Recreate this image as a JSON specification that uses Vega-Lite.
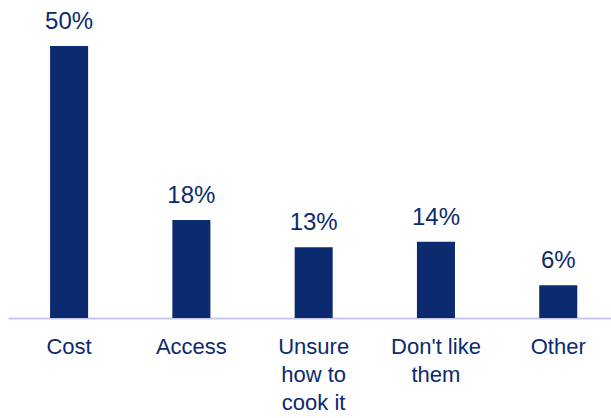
{
  "$schema": "https://vega.github.io/schema/vega-lite/v6.json",
  "width": 603,
  "height": 272,
  "autosize": {"type": "none"},
  "padding": {"left": 8, "top": 46, "right": 0, "bottom": 100},
  "background": "white",
  "config": {"view": {"stroke": null}, "font": "Liberation Sans"},
  "data": {
    "values": [
      {"reason": "Cost", "share": 0.50},
      {"reason": "Access", "share": 0.18},
      {"reason": "Unsure how to cook it", "share": 0.13},
      {"reason": "Don't like them", "share": 0.14},
      {"reason": "Other", "share": 0.06}
    ]
  },
  "encoding": {
    "x": {
      "field": "reason",
      "type": "nominal",
      "sort": null,
      "scale": {"paddingInner": 0.689, "paddingOuter": 0.31, "align": 0.555},
      "axis": {
        "title": null,
        "labelAngle": 0,
        "ticks": false,
        "domainColor": "#c8c8ec",
        "domainWidth": 2,
        "labelFont": "Liberation Sans",
        "labelFontSize": 22,
        "labelColor": "#0c2a6e",
        "labelBaseline": "top",
        "labelPadding": 18,
        "labelLineHeight": 28,
        "labelLimit": 0,
        "labelExpr": "datum.label == 'Unsure how to cook it' ? ['Unsure', 'how to', 'cook it'] : datum.label == \"Don't like them\" ? [\"Don't like\", 'them'] : datum.label"
      }
    },
    "y": {
      "field": "share",
      "type": "quantitative",
      "scale": {"domain": [0, 0.5], "nice": false},
      "axis": null
    }
  },
  "layer": [
    {"mark": {"type": "bar", "color": "#0b2a6f"}},
    {
      "mark": {"type": "text", "baseline": "alphabetic", "dy": -17, "fontSize": 24, "font": "Liberation Sans", "color": "#0c2a6e"},
      "encoding": {"text": {"field": "share", "type": "quantitative", "format": ".0%"}}
    }
  ]
}
